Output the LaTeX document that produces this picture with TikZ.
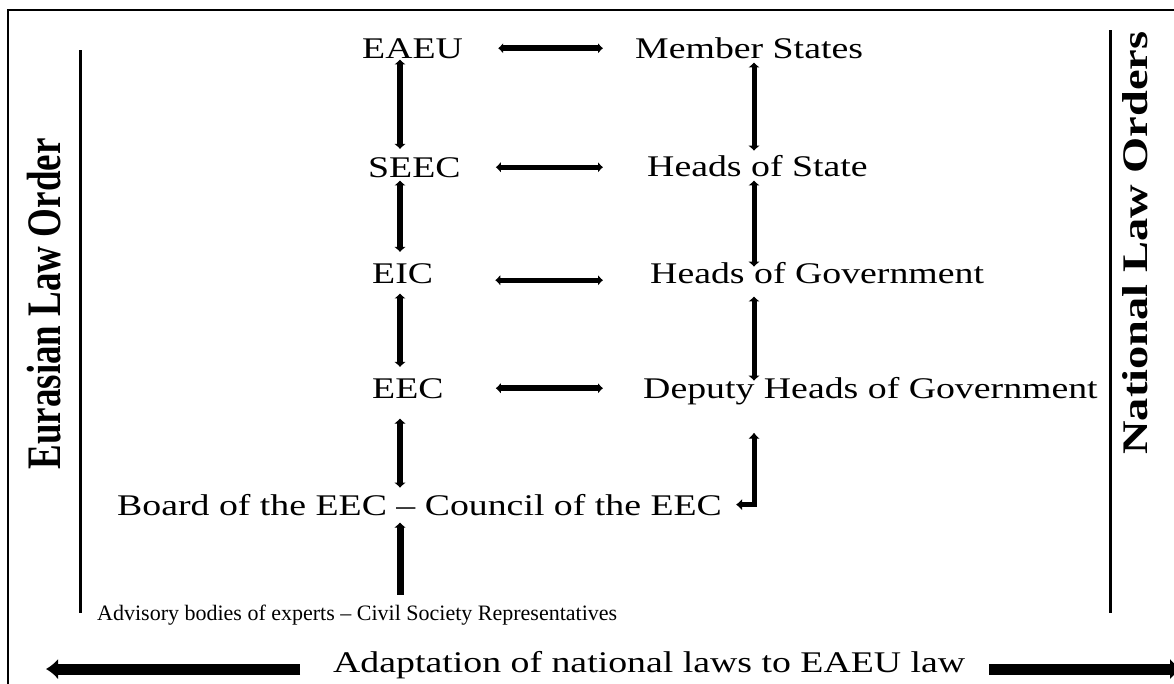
\documentclass[tikz,border=0pt]{standalone}
\usepackage{fontspec}
\setmainfont{Liberation Serif}[FakeStretch=1.26]
\newfontfamily\sidefont{Liberation Serif}
\newfontfamily\advfont{Liberation Serif}[Ligatures=TeX]
\usetikzlibrary{arrows.meta,calc}
\begin{document}
\begin{tikzpicture}[x=1pt,y=-1pt,
  lbl/.style={anchor=base west,inner sep=0pt,font=\fontsize{30}{32}\selectfont},
  small/.style={anchor=base west,inner sep=0pt,font=\advfont\fontsize{22}{24}\selectfont},
  side/.style={inner sep=0pt,rotate=90},
  harrow/.style={line width=5pt,{Latex[length=5pt,width=11pt]}-{Latex[length=5pt,width=11pt]}},
  varrow/.style={line width=6.5pt,{Latex[length=5pt,width=12pt]}-{Latex[length=5pt,width=12pt]}},
  uparrow/.style={line width=7pt,{Latex[length=5pt,width=12pt]}-},
  elbow/.style={line width=5pt,{Latex[length=6pt,width=12pt]}-{Latex[length=6pt,width=12pt]}},
  bigarrow/.style={line width=11pt,-{Latex[length=12pt,width=21pt]}},
  rule/.style={line width=3pt}]
\useasboundingbox (0,0) rectangle (1174,683);
% frame (continues past right and bottom edges)
\draw[line width=2pt] (8,10) rectangle (1200,720);
% side rules
\coordinate (lt) at (80,50);  \coordinate (lb) at (80,613);
\coordinate (rt) at (1110,30); \coordinate (rb) at (1110,613);
\draw[rule] (lt) -- (lb);
\draw[rule] (rt) -- (rb);
% side labels
\node[side] (ELO) at (44,304) {\scalebox{1}[1.3]{\sidefont\bfseries\fontsize{37}{40}\selectfont Eurasian Law Order}};
\node[side] (NLO) at (1135,243) {\scalebox{1.29}[1]{\sidefont\bfseries\fontsize{36}{40}\selectfont National Law Orders}};
% column guides
\coordinate (colL) at (400,0);
\coordinate (colR) at (754,0);
% nodes
\node[lbl] (EAEU) at (362,58) {EAEU};
\node[lbl] (MS)   at (635,58) {Member States};
\node[lbl] (SEEC) at (368,177) {SEEC};
\node[lbl] (HS)   at (647,176) {Heads of State};
\node[lbl] (EIC)  at (372,283) {EIC};
\node[lbl] (HG)   at (650,283) {Heads of Government};
\node[lbl] (EEC)  at (372,398) {EEC};
\node[lbl] (DHG)  at (643,398) {Deputy Heads of Government};
\node[lbl] (Board) at (117,515) {Board of the EEC – Council of the EEC};
\node[small] (Adv) at (97,620) {Advisory bodies of experts – Civil Society Representatives};
\node[lbl] (Adapt) at (333,672) {Adaptation of national laws to EAEU law};
% horizontal arrows
\draw[harrow,line width=6pt,shorten <=35pt,shorten >=32pt] (EAEU.east) -- (EAEU.east -| MS.west);
\draw[harrow,shorten <=35pt,shorten >=44pt] (SEEC.east) -- (SEEC.east -| HS.west);
\draw[harrow,shorten <=62pt,shorten >=47pt] ([yshift=-7pt]EIC.east) -- ([yshift=-7pt]EIC.east -| HG.west);
\draw[harrow,line width=6pt,shorten <=52pt,shorten >=40pt] (EEC.east) -- (EEC.east -| DHG.west);
% left column
\draw[varrow,shorten <=1pt,shorten >=8pt] (colL |- EAEU.south) -- (colL |- SEEC.north);
\draw[varrow,shorten <=3pt,shorten >=11pt] (colL |- SEEC.south) -- (colL |- EIC.north);
\draw[varrow,shorten <=10pt,shorten >=11pt] (colL |- EIC.south) -- (colL |- EEC.north);
\draw[varrow,shorten <=20pt,shorten >=6pt] (colL |- EEC.south) -- (colL |- Board.north);
\draw[uparrow,shorten <=7pt,shorten >=9pt] (colL |- Board.south) -- (colL |- Adv.north);
% right column
\draw[varrow,line width=5pt,shorten <=4pt,shorten >=4pt] (colR |- MS.south) -- (colR |- HS.north);
\draw[varrow,line width=5pt,shorten <=4pt,shorten >=-5pt] (colR |- HS.south) -- (colR |- HG.north);
\draw[varrow,line width=5pt,shorten <=13pt,shorten >=-4pt] (colR |- HG.south) -- (colR |- DHG.north);
\draw[elbow,shorten <=28pt,shorten >=14pt] (colR |- DHG.south) |- (Board.east);
% bottom arrows
\coordinate (Lend) at (46,669);
\coordinate (Rend) at (1182,669);
\draw[bigarrow,shorten <=33pt] (Adapt.west |- Lend) -- (Lend);
\draw[bigarrow,shorten <=24pt] (Adapt.east |- Rend) -- (Rend);
\end{tikzpicture}
\end{document}
